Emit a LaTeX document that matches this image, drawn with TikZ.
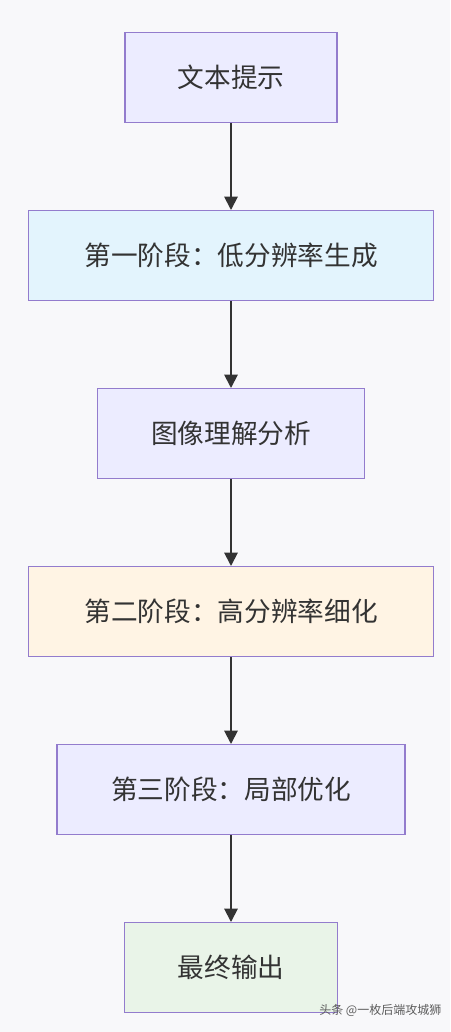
\documentclass[tikz,border=0pt]{standalone}
\usepackage{fontspec}
\setmainfont{Noto Sans CJK SC}
\usetikzlibrary{positioning,arrows.meta}
\definecolor{colbg}{RGB}{248,248,250}
\definecolor{colline}{RGB}{147,124,205}
\definecolor{colpurple}{RGB}{236,236,255}
\definecolor{colblue}{RGB}{227,244,253}
\definecolor{colcream}{RGB}{255,244,228}
\definecolor{colgreen}{RGB}{233,244,232}
\definecolor{coltext}{RGB}{51,51,51}
\tikzset{
  stagebox/.style={
    rectangle,
    draw=colline,
    line width=1.1pt,
    minimum height=67.5pt,
    inner sep=0pt,
    text=coltext,
    font=\fontsize{20}{24}\selectfont
  },
  flow/.style={
    draw=coltext,
    line width=1.4pt,
    -{Triangle[width=10pt,length=10pt]}
  }
}

\begin{document}
\begin{tikzpicture}[node distance=64.9pt]
  \useasboundingbox[fill=colbg] (0,0) rectangle (337.5pt,-774pt);

  % the boxes
  \node (txt) [stagebox, fill=colpurple, minimum width=159pt, below=24pt of {(173.25pt,0)}, anchor=north]
    {文本提示};
  \node (stageone) [stagebox, fill=colblue, minimum width=303.75pt, below=of txt]
    {第一阶段：低分辨率生成};
  \node (analyse) [stagebox, fill=colpurple, minimum width=200.25pt, below=of stageone]
    {图像理解分析};
  \node (stagetwo) [stagebox, fill=colcream, minimum width=303.75pt, below=of analyse]
    {第二阶段：高分辨率细化};
  \node (stagethree) [stagebox, fill=colpurple, minimum width=261pt, below=of stagetwo]
    {第三阶段：局部优化};
  \node (output) [stagebox, fill=colgreen, minimum width=159.75pt, below=of stagethree]
    {最终输出};

  % the arrows
  \foreach \from/\to in {txt/stageone, stageone/analyse, analyse/stagetwo,
                         stagetwo/stagethree, stagethree/output}
    \draw[flow] (\from) -- (\to);

  % watermark
  \node (mark) [anchor=east, text=coltext!80, font=\fontsize{9}{10}\selectfont]
    at (334.5pt,-758pt) {头条 @一枚后端攻城狮};
\end{tikzpicture}
\end{document}
